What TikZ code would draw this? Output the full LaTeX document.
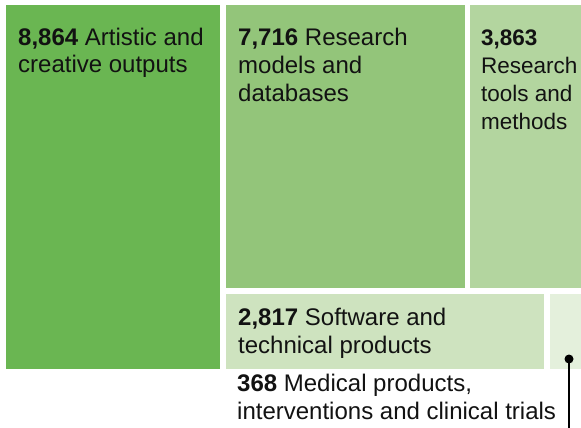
\documentclass[tikz,border=0pt]{standalone}
\usepackage{fontspec}
\setmainfont{Liberation Sans}
\usepackage{tikz}
\usetikzlibrary{positioning}
\definecolor{tileA}{RGB}{106,182,82}
\definecolor{tileB}{RGB}{147,197,122}
\definecolor{tileC}{RGB}{179,213,159}
\definecolor{tileD}{RGB}{206,227,191}
\definecolor{tileE}{RGB}{228,240,220}
\tikzset{
  tile/.style={rectangle, draw=none, inner sep=0pt, anchor=north west},
  lbl/.style={anchor=base west, align=left, inner sep=0pt, text=black!93,
    font=\fontsize{24}{28}\selectfont},
}
\newcommand{\num}[1]{\textbf{#1}}

\begin{document}
\begin{tikzpicture}[x=1pt, y=-1pt]
    % canvas
    \useasboundingbox[fill=white] (0,0) rectangle (581,428);

    % Tiles
    \node[tile, fill=tileA, minimum width=214pt, minimum height=364pt] (art) at (6,5) {};
    \node[tile, fill=tileB, minimum width=239pt, minimum height=283pt] (models) at (226,5) {};
    \node[tile, fill=tileC, minimum width=120pt, minimum height=283pt] (tools) at (470,5) {};
    \node[tile, fill=tileD, minimum width=318pt, minimum height=75pt] (soft) at (226,294) {};
    \node[tile, fill=tileE, minimum width=40pt, minimum height=75pt] (medical) at (550,294) {};
    \useasboundingbox (0,0) rectangle (581,428);

    % Labels (base = last line)
    \node[lbl] (artlbl) at (18,73) {\num{8,864} Artistic and\\creative outputs};
    \node[lbl] (modelslbl) at (238,101) {\num{7,716} Research\\models and\\databases};
    \node[lbl, font=\fontsize{22.5}{28}\selectfont] (toolslbl) at (481,129) {\num{3,863}\\Research\\tools and\\methods};
    \node[lbl] (softlbl) at (238,353) {\num{2,817} Software and\\technical products};
    \node[lbl] (medlbl) at (237,419) {\num{368} Medical products,\\interventions and clinical trials};

    % Leader
    \coordinate (dot) at (569,359);
    \coordinate (leadend) at (569,428);
    \fill[black] (dot) circle (4.5pt);
    \draw[line width=2.2pt] (dot) -- (leadend);
\end{tikzpicture}
\end{document}
